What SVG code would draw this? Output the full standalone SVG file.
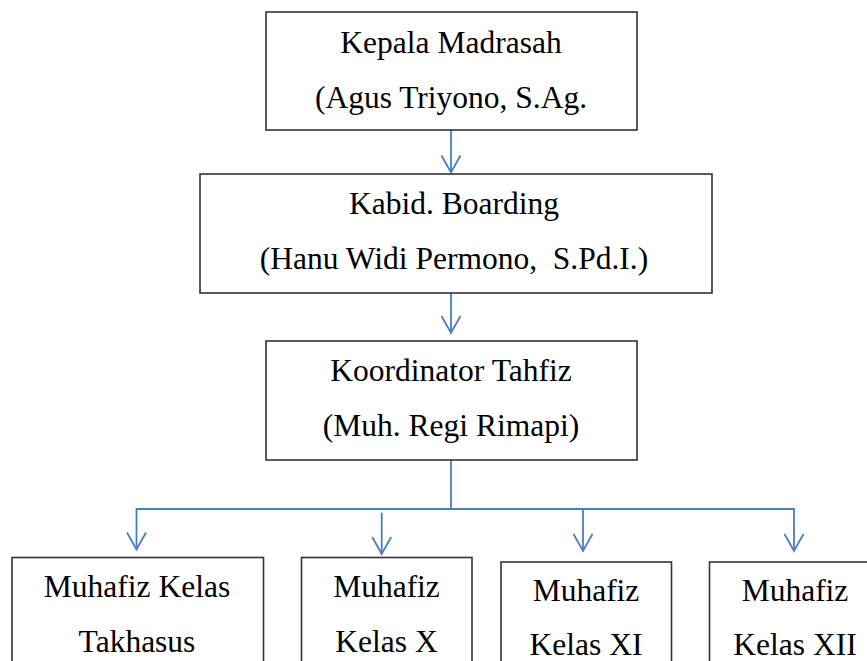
<svg xmlns="http://www.w3.org/2000/svg" width="867" height="661" viewBox="0 0 867 661">
<style>
.box{fill:#ffffff;stroke:#333333;stroke-width:1.6}
.t{font-family:"Liberation Serif","Times New Roman",serif;font-size:31.5px;fill:#000000;text-anchor:middle}
.c{fill:none;stroke:#4a7ebb;stroke-width:1.8}
</style>
<defs>
<marker id="ah" viewBox="-20 -12 22 24" markerWidth="22" markerHeight="24" refX="0" refY="0" orient="auto" markerUnits="userSpaceOnUse" overflow="visible">
<path d="M-17,-9.5 L0,0 L-17,9.5" fill="none" stroke="#4a7ebb" stroke-width="1.8"/>
</marker>
</defs>
<rect width="867" height="661" fill="#ffffff"/>
<g id="connectors">
<line class="c" x1="451" y1="130" x2="451" y2="172.5" marker-end="url(#ah)"/>
<line class="c" x1="451" y1="293" x2="451" y2="333" marker-end="url(#ah)"/>
<line class="c" x1="451" y1="460" x2="451" y2="509"/>
<line class="c" x1="136.5" y1="509" x2="794" y2="509"/>
<line class="c" x1="136.5" y1="508.1" x2="136.5" y2="549.5" marker-end="url(#ah)"/>
<line class="c" x1="381.7" y1="512.7" x2="381.7" y2="554" marker-end="url(#ah)"/>
<line class="c" x1="583" y1="509" x2="583" y2="551" marker-end="url(#ah)"/>
<line class="c" x1="794" y1="508.1" x2="794" y2="551" marker-end="url(#ah)"/>
</g>
<g id="node-kepala">
<rect class="box" x="266" y="12" width="371" height="118"/>
<text class="t" x="451" y="53">Kepala Madrasah</text>
<text class="t" x="451" y="108">(Agus Triyono, S.Ag.</text>
</g>
<g id="node-kabid">
<rect class="box" x="200" y="174" width="512" height="119"/>
<text class="t" x="454" y="214">Kabid. Boarding</text>
<text class="t" x="454" y="269" xml:space="preserve">(Hanu Widi Permono,  S.Pd.I.)</text>
</g>
<g id="node-koordinator">
<rect class="box" x="266" y="341" width="371" height="119"/>
<text class="t" x="451" y="381">Koordinator Tahfiz</text>
<text class="t" x="451" y="436">(Muh. Regi Rimapi)</text>
</g>
<g id="node-takhasus">
<rect class="box" x="12" y="557.5" width="251.5" height="130"/>
<text class="t" x="137" y="597">Muhafiz Kelas</text>
<text class="t" x="137" y="652">Takhasus</text>
</g>
<g id="node-x">
<rect class="box" x="301.5" y="557.5" width="170.5" height="130"/>
<text class="t" x="386.5" y="597">Muhafiz</text>
<text class="t" x="386.5" y="652">Kelas X</text>
</g>
<g id="node-xi">
<rect class="box" x="501" y="562" width="170.5" height="130"/>
<text class="t" x="586" y="601">Muhafiz</text>
<text class="t" x="586" y="655">Kelas XI</text>
</g>
<g id="node-xii">
<rect class="box" x="709.5" y="562" width="180" height="130"/>
<text class="t" x="795" y="601">Muhafiz</text>
<text class="t" x="795" y="655">Kelas XII</text>
</g>
</svg>
